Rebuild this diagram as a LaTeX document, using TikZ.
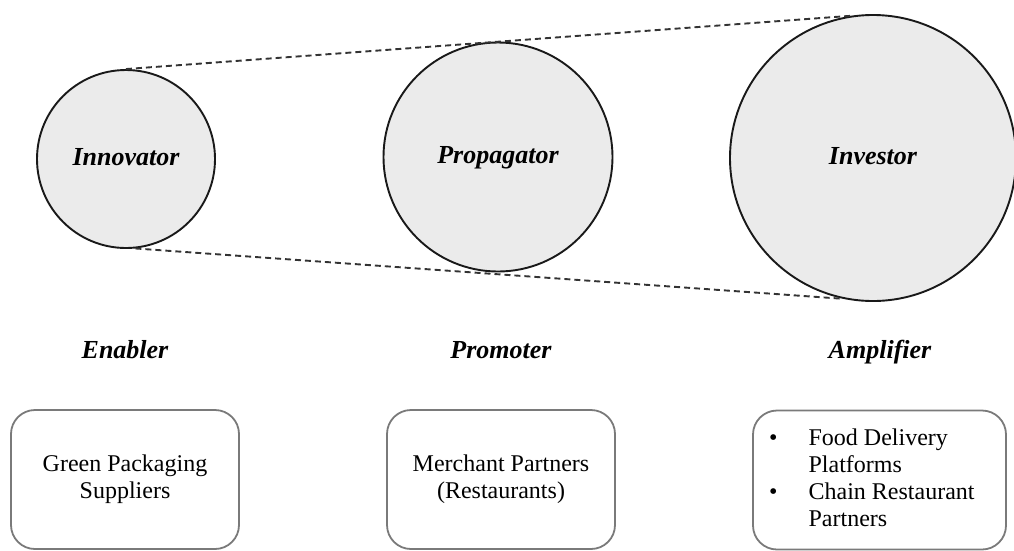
\documentclass[tikz,border=0pt]{standalone}
\usepackage{fontspec}
\setmainfont{Liberation Serif}
\definecolor{discfill}{HTML}{EBEBEB}
\definecolor{boxline}{HTML}{7A7A7A}
\definecolor{dashline}{HTML}{333333}
\begin{document}
\begin{tikzpicture}[x=1pt,y=-1pt,
  disc/.style={circle, draw=black!90, line width=1.9pt, fill=discfill, inner sep=0pt,
               text height=18pt, text depth=6pt,
               font=\fontsize{26}{30}\selectfont\bfseries\itshape},
  role/.style={text height=18pt, text depth=6pt,
               font=\fontsize{26}{30}\selectfont\bfseries\itshape},
  card/.style={draw=boxline, line width=1.8pt, rounded corners=24pt, minimum height=139pt},
  cardtext/.style={align=center, font=\fontsize{24}{27}\selectfont},
  reach/.style={dashline, line width=1.9pt, dash pattern=on 6pt off 4pt}]
  \useasboundingbox (0,0) rectangle (1014,550);

  % three actors, growing in size
  \node[disc, minimum size=178pt] (inn) at (126,159) {Innovator};
  \node[disc, minimum size=229pt] (pro) at (498,157) {Propagator};
  \node[disc, minimum size=286pt] (inv) at (873,158) {Investor};

  % envelope lines
  \draw[reach] (inn.90) -- (inv.99);
  \draw[reach] (inn.-84) -- (inv.-102);

  % roles
  \node[role] (ena) at (125,352) {Enabler};
  \node[role] (prm) at (501,352) {Promoter};
  \node[role] (amp) at (880,352) {Amplifier};

  % partner boxes
  \node[card, minimum width=228pt] (b1) at (125,479.5) {};
  \node[card, minimum width=228pt] (b2) at (501,479.5) {};
  \node[card, minimum width=253pt] (b3) at (879.5,480) {};

  \node[cardtext] (t1) at (b1.center) {Green Packaging\\Suppliers};
  \node[cardtext] (t2) at (b2.center) {Merchant Partners\\(Restaurants)};
  \node[anchor=west, inner sep=0pt, font=\fontsize{24}{27}\selectfont] (t3) at (769,481)
    {\begin{tabular}{@{}l@{\hspace{31pt}}l@{}}
      \textbullet & Food Delivery\\
                  & Platforms\\
      \textbullet & Chain Restaurant\\
                  & Partners
    \end{tabular}};
\end{tikzpicture}
\end{document}
